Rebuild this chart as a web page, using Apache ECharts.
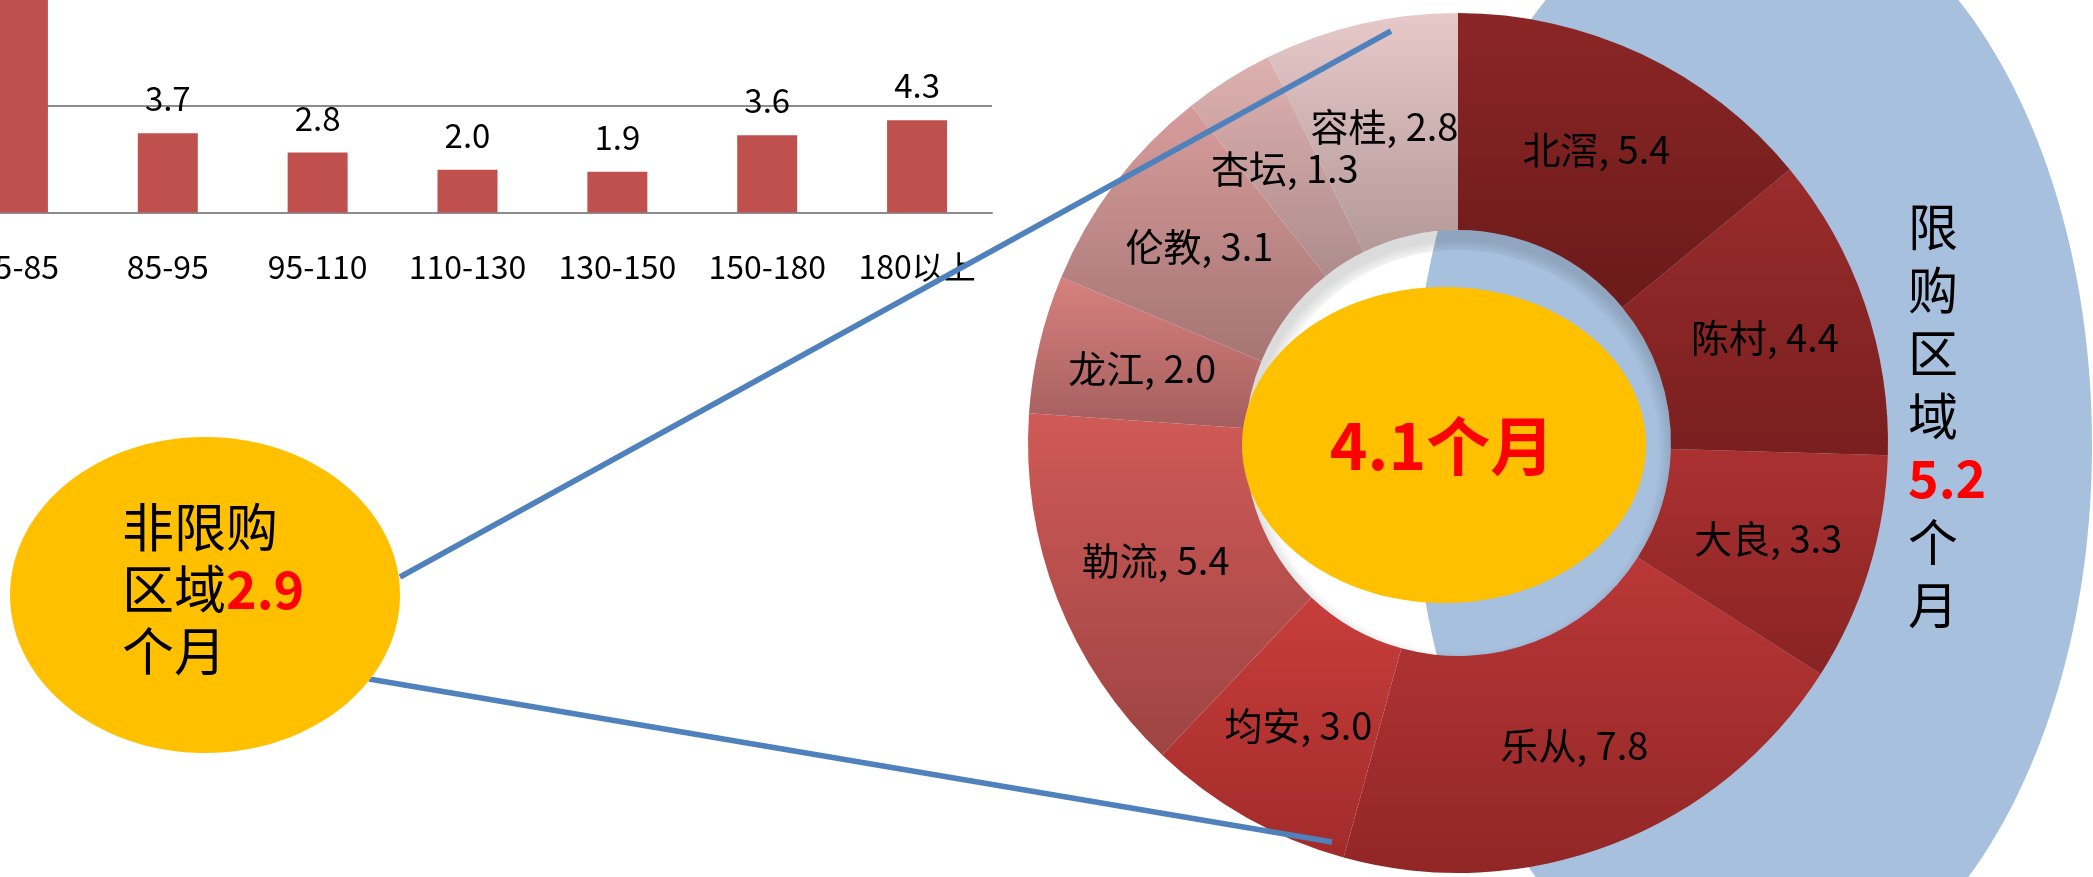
<!DOCTYPE html>
<html>
<head>
<meta charset="utf-8">
<script src="https://cdn.jsdelivr.net/npm/echarts@6/dist/echarts.min.js"></script>
<style>
  html, body { margin: 0; padding: 0; background: #fff; }
  #chart { width: 2093px; height: 877px; }
</style>
</head>
<body>
<div id="chart"></div>
<script>
// 面积段去化周期（个月）
const areaBands = ['75-85', '85-95', '95-110', '110-130', '130-150', '150-180', '180以上'];
const bandMonths = [10.9, 3.7, 2.8, 2.0, 1.9, 3.6, 4.3];
const yTicks = [0, 5, 10, 15];

// 各镇街去化周期（个月），从北滘起顺时针
const towns = ['北滘', '陈村', '大良', '乐从', '均安', '勒流', '龙江', '伦教', '杏坛', '容桂'];
const townMonths = [5.4, 4.4, 3.3, 7.8, 3.0, 5.4, 2.0, 3.1, 1.3, 2.8];

// 汇总去化周期
const overallMonths = 4.1;
const nonLimitedMonths = 2.9;
const limitedMonths = 5.2;

// 每个扇区的上下渐变色
const sliceShades = [
  ['#8C2626', '#6B1A1A'],
  ['#9A2C2C', '#791F1F'],
  ['#AB3131', '#892323'],
  ['#BA3737', '#912626'],
  ['#C73E3B', '#A22B2A'],
  ['#D05A57', '#9D4443'],
  ['#D7817E', '#A45F5E'],
  ['#D69C9B', '#A57574'],
  ['#DEB1B0', '#AE8C8C'],
  ['#E7C9C9', '#B49999'],
];

const FONT = '"Noto Sans CJK SC", "Noto Sans", sans-serif';
const PIE_CENTER = [1458, 443];
const PIE_RADIUS = [213, 430];

const chart = echarts.init(document.getElementById('chart'), null, { renderer: 'canvas' });

const pieData = towns.map((name, i) => ({
  name,
  value: townMonths[i],
  itemStyle: {
    color: new echarts.graphic.LinearGradient(0, 0, 0, 1, [
      { offset: 0, color: sliceShades[i][0] },
      { offset: 1, color: sliceShades[i][1] },
    ]),
  },
}));

const option = {
  animation: false,
  backgroundColor: '#ffffff',
  grid: {
    left: -57, top: -109, width: 1049, height: 321.5,
    containLabel: false,
    outerBoundsMode: 'none',
  },
  xAxis: {
    type: 'category',
    data: areaBands,
    axisLine: { show: true, lineStyle: { color: '#8C8C8C', width: 2 } },
    axisTick: { show: false },
    axisLabel: { fontSize: 32, color: '#000', margin: 38, fontFamily: FONT, interval: 0 },
  },
  yAxis: {
    type: 'value',
    min: yTicks[0],
    max: yTicks[yTicks.length - 1],
    interval: yTicks[1] - yTicks[0],
    axisLine: { show: false },
    axisTick: { show: false },
    axisLabel: { show: false },
    splitLine: { lineStyle: { color: '#8C8C8C', width: 2 } },
  },
  series: [
    {
      type: 'bar',
      data: bandMonths,
      barWidth: 60,
      itemStyle: { color: '#C0504D' },
      label: {
        show: true,
        position: 'top',
        distance: 18,
        fontSize: 33,
        color: '#000',
        fontFamily: FONT,
        formatter: (p) => p.value.toFixed(1),
      },
      silent: true,
    },
    {
      type: 'pie',
      center: PIE_CENTER,
      radius: PIE_RADIUS,
      startAngle: 90,
      clockwise: true,
      z: 3,
      silent: true,
      label: {
        show: true,
        position: 'inside',
        fontSize: 38,
        color: '#000',
        fontFamily: FONT,
        formatter: (p) => p.name + ', ' + p.value.toFixed(1),
      },
      labelLine: { show: false },
      emphasis: { disabled: true },
      data: pieData,
    },
  ],
  graphic: [
    // 限购区域底色
    {
      type: 'ellipse', z: 0, silent: true,
      shape: { cx: 1752, cy: 445, rx: 340, ry: 560 },
      style: { fill: '#A7C0DE' },
    },
    // 环形内缘阴影（偏上方）
    {
      type: 'ring', z: 10, silent: true,
      shape: { cx: PIE_CENTER[0], cy: PIE_CENTER[1], r: PIE_RADIUS[0], r0: PIE_RADIUS[0] - 20 },
      style: {
        fill: new echarts.graphic.RadialGradient(PIE_CENTER[0] + 2, PIE_CENTER[1] + 10, PIE_RADIUS[0], [
          { offset: 0.93, color: 'rgba(0,0,0,0)' },
          { offset: 1, color: 'rgba(0,0,0,0.14)' },
        ], true),
      },
    },
    // 中心汇总
    {
      type: 'ellipse', z: 20, silent: true,
      shape: { cx: 1444, cy: 445, rx: 202, ry: 158 },
      style: { fill: '#FFC000' },
    },
    {
      type: 'text', z: 21, silent: true, x: 1442, y: 446,
      style: {
        text: overallMonths.toFixed(1) + '个月',
        fontSize: 64, fontWeight: 'bold', fontFamily: FONT, fill: '#FF0000',
        align: 'center', verticalAlign: 'middle',
      },
    },
    // 引线
    {
      type: 'line', z: 30, silent: true,
      shape: { x1: 400, y1: 577, x2: 1391, y2: 31 },
      style: { stroke: '#4F81BD', lineWidth: 5.5 },
    },
    {
      type: 'line', z: 30, silent: true,
      shape: { x1: 369, y1: 679, x2: 1332, y2: 842 },
      style: { stroke: '#4F81BD', lineWidth: 5.5 },
    },
    // 非限购区域
    {
      type: 'ellipse', z: 40, silent: true,
      shape: { cx: 205, cy: 595, rx: 195, ry: 158 },
      style: { fill: '#FFC000' },
    },
    {
      type: 'text', z: 41, silent: true, x: 122, y: 496,
      style: {
        text: '非限购\n区域{v|' + nonLimitedMonths.toFixed(1) + '}\n个月',
        fontSize: 52, fontFamily: FONT, fill: '#000', lineHeight: 62,
        align: 'left', verticalAlign: 'top',
        rich: {
          v: { fontSize: 52, fontWeight: 'bold', fontFamily: FONT, fill: '#FF0000', lineHeight: 62 },
        },
      },
    },
    // 限购区域
    {
      type: 'text', z: 41, silent: true, x: 1908, y: 195,
      style: {
        text: '限\n购\n区\n域\n{v|' + limitedMonths.toFixed(1) + '}\n个\n月',
        fontSize: 50, fontFamily: FONT, fill: '#000', lineHeight: 63,
        align: 'left', verticalAlign: 'top',
        rich: {
          v: { fontSize: 52, fontWeight: 'bold', fontFamily: FONT, fill: '#FF0000', lineHeight: 63 },
        },
      },
    },
  ],
};

chart.setOption(option);
</script>
</body>
</html>
